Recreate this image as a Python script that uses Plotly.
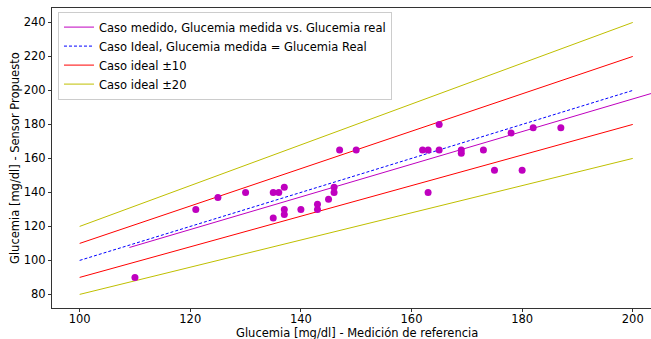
import plotly.graph_objects as go

# Scatter data: reference measurement vs proposed sensor
ref_vals = [110, 121, 125, 130, 135, 136, 137, 135, 137, 137, 140, 143, 143, 145, 146, 146,
            147, 150, 165, 162, 163, 165, 169, 169, 173, 163, 175, 180, 178, 182, 187]
sensor_vals = [90, 130, 137, 140, 140, 140, 143, 125, 130, 127, 130, 133, 130, 136, 140, 143,
               165, 165, 180, 165, 165, 165, 165, 163, 165, 140, 153, 153, 175, 178, 178]

# Fitted line (measured case)
fit_x = [109, 210]
fit_y = [107.6, 204.6]

# Ideal lines
ideal_x = [100, 200]
ideal_y = [100, 200]
plus10_y = [110, 220]
minus10_y = [90, 180]
plus20_y = [120, 240]
minus20_y = [80, 160]

x_ticks = [100, 120, 140, 160, 180, 200]
y_ticks = [80, 100, 120, 140, 160, 180, 200, 220, 240]

MAG = "#bf00bf"
RED = "#ff0000"
YEL = "#bfbf00"
BLUE = "#0000ff"
FONT = "DejaVu Sans"
FS = 11.5

fig = go.Figure()
fig.add_trace(go.Scatter(x=fit_x, y=fit_y, mode="lines", line=dict(color=MAG, width=1),
                         name="Caso medido, Glucemia medida vs. Glucemia real"))
fig.add_trace(go.Scatter(x=ideal_x, y=ideal_y, mode="lines", line=dict(color=BLUE, width=1, dash="3px,2px"),
                         name="Caso Ideal, Glucemia medida = Glucemia Real"))
fig.add_trace(go.Scatter(x=ideal_x, y=plus10_y, mode="lines", line=dict(color=RED, width=1),
                         name="Caso ideal ±10", legendgroup="r"))
fig.add_trace(go.Scatter(x=ideal_x, y=minus10_y, mode="lines", line=dict(color=RED, width=1),
                         name="Caso ideal ±10", legendgroup="r", showlegend=False))
fig.add_trace(go.Scatter(x=ideal_x, y=plus20_y, mode="lines", line=dict(color=YEL, width=1),
                         name="Caso ideal ±20", legendgroup="y"))
fig.add_trace(go.Scatter(x=ideal_x, y=minus20_y, mode="lines", line=dict(color=YEL, width=1),
                         name="Caso ideal ±20", legendgroup="y", showlegend=False))
fig.add_trace(go.Scatter(x=ref_vals, y=sensor_vals, mode="markers",
                         marker=dict(color=MAG, size=7, line=dict(width=0)), showlegend=False))

PLOT_H = 339 - 8 - 31
PLOT_W = 651 - 52

fig.update_layout(
    width=651, height=339,
    margin=dict(l=52, r=0, t=8, b=31),
    plot_bgcolor="white", paper_bgcolor="white",
    font=dict(family=FONT, size=FS, color="black"),
    showlegend=True,
    legend=dict(x=0.01, y=0.988, xanchor="left", yanchor="top",
                bgcolor="rgba(255,255,255,0.8)", bordercolor="#cccccc", borderwidth=1,
                font=dict(family=FONT, size=FS), tracegroupgap=0),
    xaxis=dict(range=[95, 203.3], tickvals=x_ticks, showgrid=False, zeroline=False,
               showline=True, linecolor="#333333", linewidth=1, mirror=True,
               ticks="outside", ticklen=3, tickcolor="#333333", ticklabelstandoff=-3),
    yaxis=dict(range=[72, 248.5], tickvals=y_ticks, showgrid=False, zeroline=False,
               showline=True, linecolor="#333333", linewidth=1, mirror=False,
               ticks="outside", ticklen=3, tickcolor="#333333"),
    annotations=[
        dict(text="Glucemia [mg/dl] - Medición de referencia", xref="paper", yref="paper",
             x=(357 - 52) / PLOT_W, y=-(333 - 308) / PLOT_H, xanchor="center", yanchor="middle",
             showarrow=False, font=dict(family=FONT, size=FS)),
        dict(text="Glucemia [mg/dl] - Sensor Propuesto", xref="paper", yref="paper",
             x=-(52 - 15) / PLOT_W, y=0.5, xanchor="center", yanchor="middle", textangle=-90,
             showarrow=False, font=dict(family=FONT, size=FS)),
    ],
)

fig.write_html("out.html")
